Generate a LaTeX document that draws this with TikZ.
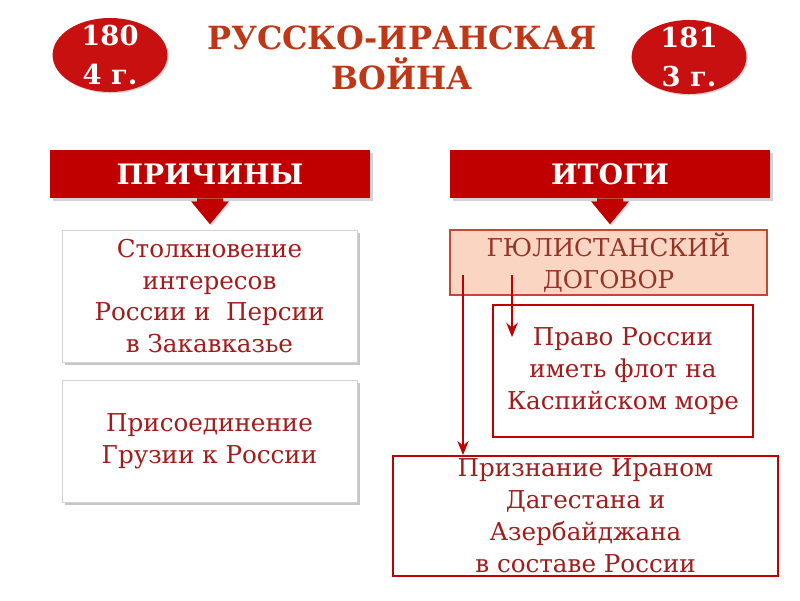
\documentclass[tikz,border=0pt]{standalone}
\usepackage{fontspec}
\setmainfont{DejaVu Serif}
\usepackage{xcolor}
\usepackage{tikz}
\usetikzlibrary{shapes.geometric, arrows.meta, positioning, calc, shadows}
\definecolor{warred}{RGB}{192, 0, 0}
\definecolor{warovalred}{RGB}{200, 16, 16}
\definecolor{wartitle}{RGB}{190, 56, 24}
\definecolor{wartext}{RGB}{162, 28, 28}
\definecolor{wargul}{RGB}{150, 52, 40}
\definecolor{warpeach}{RGB}{250, 214, 194}
\definecolor{warborder}{RGB}{196, 72, 56}

\tikzset{
  yearoval/.style={ellipse, fill=warovalred, inner sep=0pt,
    minimum width=2.87cm, minimum height=1.85cm,
    drop shadow={opacity=0.3, shadow xshift=1pt, shadow yshift=-1pt}},
  yeartext/.style={text=white, align=center, inner sep=0pt,
    font=\fontsize{19.5}{28}\selectfont\bfseries},
  banner/.style={rectangle, fill=warred, text=white, inner sep=0pt,
    minimum width=8cm, minimum height=1.2cm,
    font=\fontsize{20}{24}\selectfont\bfseries,
    drop shadow={opacity=0.35, shadow xshift=2pt, shadow yshift=-2pt}},
  causebox/.style={rectangle, draw=gray!35, fill=white, text=wartext, align=center,
    inner sep=0pt, minimum width=7.375cm,
    font=\fontsize{17.5}{22.7}\selectfont,
    drop shadow={opacity=0.45, shadow xshift=2pt, shadow yshift=-2pt}},
  resultbox/.style={rectangle, draw=warred, line width=1.3pt, fill=white, text=wartext,
    align=center, inner sep=0pt, font=\fontsize{17.5}{22.7}\selectfont},
  resultarrow/.style={draw=warred, line width=2pt, -{Stealth[length=10pt, width=8pt]}}
}

\begin{document}
\begin{tikzpicture}[x=0.025cm, y=-0.025cm]
\useasboundingbox (0,0) rectangle (800,600);

% Years
\node[yearoval] (start) at (110,55) {};
\node[yeartext] (starttext) at (start.center) {180\\4 г.};
\node[yearoval] (end) at (689,57) {};
\node[yeartext] (endtext) at (end.center) {181\\3 г.};

% Title
\node[text=wartitle, align=center, font=\fontsize{22.7}{28.5}\selectfont\bfseries]
  (title) at (402,58) {РУССКО-ИРАНСКАЯ\\ВОЙНА};

% Banners
\node[banner] (causes) at (210,174) {ПРИЧИНЫ};
\node[banner] (results) at (610,174) {ИТОГИ};

% Block arrows under the banners
\foreach \b in {causes, results} {
  \fill[warred, drop shadow={opacity=0.3, shadow xshift=1pt, shadow yshift=-1pt}]
    ($(\b.south)+(-13,0)$) -- ($(\b.south)+(13,0)$) -- ($(\b.south)+(13,3)$)
    -- ($(\b.south)+(19,3)$) -- ($(\b.south)+(0,26)$) -- ($(\b.south)+(-19,3)$)
    -- ($(\b.south)+(-13,3)$) -- cycle;
}

% Causes
\node[causebox, minimum height=3.3cm] (clash) at (209.5,296)
  {Столкновение\\интересов\\России и~~Персии\\в Закавказье};
\node[causebox, minimum height=3.05cm] (georgia) at (209.5,441)
  {Присоединение\\Грузии к России};

% Results
\node[rectangle, draw=warborder, line width=1pt, fill=warpeach, text=wargul, align=center,
  inner sep=0pt, minimum width=7.925cm, minimum height=1.625cm,
  font=\fontsize{17.5}{22.7}\selectfont] (treaty) at (608.5,262.5)
  {ГЮЛИСТАНСКИЙ\\ДОГОВОР};
\node[resultbox, minimum width=6.5cm, minimum height=3.3cm] (fleet) at (623,371)
  {Право России\\иметь флот на\\Каспийском море};
\node[resultbox, minimum width=9.625cm, minimum height=3cm] (lands) at (585.5,516)
  {Признание Ираном\\Дагестана и\\Азербайджана\\в составе России};

% Arrows from the treaty
\coordinate (fleetstart) at (512,275);
\coordinate (landsstart) at (463,275);
\draw[resultarrow] (fleetstart) -- (fleetstart |- 0,337);
\draw[resultarrow] (landsstart) -- (landsstart |- lands.north);
\end{tikzpicture}
\end{document}
